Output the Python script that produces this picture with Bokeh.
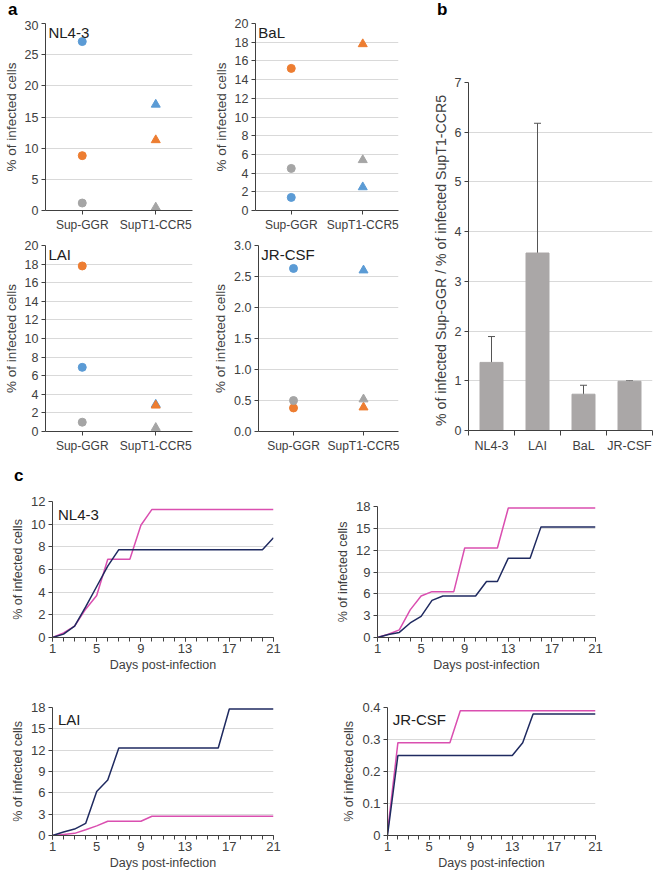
from bokeh.plotting import figure
from bokeh.layouts import row, column
from bokeh.models import (FactorRange, Range1d, FixedTicker, Label, NumeralTickFormatter,
                          ColumnDataSource, Whisker, TeeHead, Div)
from bokeh.embed import file_html
from bokeh.resources import INLINE

FONT = "Liberation Sans"
TXT = "#404040"
AXC = "#404040"
GRID = "#D9D9D9"
BLUE, ORANGE, GRAY = "#5B9BD5", "#ED7D31", "#A5A5A5"
PINK, NAVY = "#DA4FB0", "#1F2A60"

# ---------------- panel a data ----------------
cells = ["Sup-GGR", "SupT1-CCR5"]
nl43_blue = [27.1, 17.0]
nl43_orange = [8.8, 11.3]
nl43_gray = [1.2, 0.5]
bal_blue = [1.4, 2.5]
bal_orange = [15.2, 17.8]
bal_gray = [4.5, 5.4]
lai_blue = [6.9, 2.9]
lai_orange = [17.8, 2.8]
lai_gray = [1.0, 0.4]
jr_blue = [2.63, 2.6]
jr_orange = [0.38, 0.39]
jr_gray = [0.5, 0.52]

# ---------------- panel b data ----------------
viruses = ["NL4-3", "LAI", "BaL", "JR-CSF"]
ratio_mean = [1.37, 3.57, 0.73, 0.99]
ratio_low = [0.84, 0.97, 0.56, 0.97]
ratio_high = [1.89, 6.18, 0.91, 1.00]

# ---------------- panel c data ----------------
days = list(range(1, 22))
c_nl43_pink = [0, 0.4, 1.0, 2.5, 3.7, 6.9, 6.9, 6.9, 9.9, 11.3, 11.3, 11.3, 11.3, 11.3, 11.3, 11.3, 11.3, 11.3, 11.3, 11.3, 11.3]
c_nl43_navy = [0, 0.3, 1.0, 2.7, 4.5, 6.3, 7.75, 7.75, 7.75, 7.75, 7.75, 7.75, 7.75, 7.75, 7.75, 7.75, 7.75, 7.75, 7.75, 7.75, 8.8]
c_bal_pink = [0, 0.45, 1.05, 3.8, 5.7, 6.3, 6.3, 6.3, 12.3, 12.3, 12.3, 12.3, 17.8, 17.8, 17.8, 17.8, 17.8, 17.8, 17.8, 17.8, 17.8]
c_bal_navy = [0, 0.4, 0.7, 2.0, 2.9, 5.1, 5.7, 5.7, 5.7, 5.7, 7.7, 7.7, 10.9, 10.9, 10.9, 15.2, 15.2, 15.2, 15.2, 15.2, 15.2]
c_lai_pink = [0, 0.15, 0.3, 0.8, 1.35, 2.0, 2.0, 2.0, 2.0, 2.7, 2.7, 2.7, 2.7, 2.7, 2.7, 2.7, 2.7, 2.7, 2.7, 2.7, 2.7]
c_lai_navy = [0, 0.5, 0.9, 1.7, 6.2, 7.8, 12.3, 12.3, 12.3, 12.3, 12.3, 12.3, 12.3, 12.3, 12.3, 12.3, 17.8, 17.8, 17.8, 17.8, 17.8]
c_jr_pink = [0.01, 0.29, 0.29, 0.29, 0.29, 0.29, 0.29, 0.39, 0.39, 0.39, 0.39, 0.39, 0.39, 0.39, 0.39, 0.39, 0.39, 0.39, 0.39, 0.39, 0.39]
c_jr_navy = [0, 0.25, 0.25, 0.25, 0.25, 0.25, 0.25, 0.25, 0.25, 0.25, 0.25, 0.25, 0.25, 0.29, 0.38, 0.38, 0.38, 0.38, 0.38, 0.38, 0.38]


def style(p, ylabel=None, fs="12.5px", lfs="13.5px"):
    p.background_fill_color = "white"
    p.border_fill_color = "white"
    p.outline_line_color = None
    p.xgrid.grid_line_color = None
    p.ygrid.grid_line_color = GRID
    p.ygrid.grid_line_width = 1
    for ax in (p.xaxis[0], p.yaxis[0]):
        ax.axis_line_color = AXC
        ax.major_tick_line_color = AXC
        ax.minor_tick_line_color = None
        ax.major_tick_in = 0
        ax.major_tick_out = 4
        ax.major_label_text_font = FONT
        ax.major_label_text_font_size = fs
        ax.major_label_text_color = TXT
        ax.major_label_standoff = 3
        ax.axis_label_text_font = FONT
        ax.axis_label_text_font_style = "normal"
        ax.axis_label_text_font_size = lfs
        ax.axis_label_text_color = TXT
    p.yaxis[0].axis_label_standoff = 3
    if ylabel:
        p.yaxis[0].axis_label = ylabel


def letter_div(letter, w, h, pad_left, pad_top):
    html = ('<div style="font-family:\'Liberation Sans\',Arial,sans-serif;font-size:17px;'
            'font-weight:bold;color:black;line-height:19px;margin:0;'
            f'padding-left:{pad_left}px;padding-top:{pad_top}px;">{letter}</div>')
    return Div(text=html, width=w, height=h, margin=0)


def panel_a(name, blue, orange, gray, ymax, step, w, h, bl, br, bt, bb, fmt="0"):
    p = figure(width=w, height=h, x_range=FactorRange(factors=cells),
               y_range=Range1d(0, ymax), output_backend="svg", toolbar_location=None,
               min_border_left=bl, min_border_right=br, min_border_top=bt, min_border_bottom=bb)
    style(p, "% of infected cells")
    n = int(round(ymax / step))
    p.yaxis.ticker = FixedTicker(ticks=[i * step for i in range(n + 1)])
    p.yaxis.formatter = NumeralTickFormatter(format=fmt)
    p.xaxis.major_label_text_font_size = "12px"
    for vals, col in ((blue, BLUE), (orange, ORANGE), (gray, GRAY)):
        p.scatter(x=[cells[0]], y=[vals[0]], marker="circle", size=8, color=col)
        p.scatter(x=[cells[1]], y=[vals[1]], marker="triangle", size=9, color=col)
    p.add_layout(Label(x=0.04, y=ymax * 0.995, text=name, text_baseline="top",
                       text_font=FONT, text_font_size="15px", text_color="#202020"))
    return p


la = letter_div("a", 210, 20, 8, 0)
a1 = panel_a("NL4-3", nl43_blue, nl43_orange, nl43_gray, 30, 5, 210, 216, 42, 18, 3, 26)
a2 = panel_a("BaL", bal_blue, bal_orange, bal_gray, 20, 2, 218, 236, 40, 30, 23, 26)
a3 = panel_a("LAI", lai_blue, lai_orange, lai_gray, 20, 2, 210, 219, 42, 18, 9, 22)
a4 = panel_a("JR-CSF", jr_blue, jr_orange, jr_gray, 3.0, 0.5, 218, 219, 40, 30, 9, 22, fmt="0.0")

# ---------------- panel b ----------------
xpos = [i + 0.5 for i in range(len(viruses))]
srcb = ColumnDataSource(dict(x=xpos, top=ratio_mean, lo=ratio_low, hi=ratio_high))
lb = letter_div("b", 227, 20, 9, 0)
b = figure(width=227, height=435, x_range=Range1d(0, len(viruses)), y_range=Range1d(0, 7),
           output_backend="svg", toolbar_location=None,
           min_border_left=40, min_border_right=3, min_border_top=62, min_border_bottom=23)
style(b, "% of infected  Sup-GGR / % of  infected SupT1-CCR5", lfs="14.2px")
b.yaxis.ticker = FixedTicker(ticks=list(range(8)))
b.xaxis.ticker = FixedTicker(ticks=xpos, minor_ticks=list(range(len(viruses) + 1)))
b.xaxis.major_label_overrides = {x: v for x, v in zip(xpos, viruses)}
b.xaxis.major_tick_line_color = None
b.xaxis.minor_tick_line_color = AXC
b.xaxis.minor_tick_in = 0
b.xaxis.minor_tick_out = 5
b.vbar(x="x", top="top", width=0.5, source=srcb, color="#AAA7A7")
b.add_layout(Whisker(source=srcb, base="x", lower="lo", upper="hi", line_color="#555555",
                     line_width=1,
                     upper_head=TeeHead(size=7, line_color="#555555"),
                     lower_head=TeeHead(size=7, line_color="#555555")))


# ---------------- panel c ----------------
def panel_c(name, pink, navy, ymax, step, w, h, bl, br, bt, bb, fmt=None):
    p = figure(width=w, height=h, x_range=Range1d(1, 21), y_range=Range1d(0, ymax),
               output_backend="svg", toolbar_location=None,
               min_border_left=bl, min_border_right=br, min_border_top=bt, min_border_bottom=bb)
    style(p, "% of infected cells", fs="13px", lfs="12.5px")
    p.xaxis.axis_label = "Days post-infection"
    p.xaxis.axis_label_standoff = 2
    p.xaxis.major_label_standoff = 2
    n = int(round(ymax / step))
    ticks = [round(i * step, 3) for i in range(n + 1)]
    p.yaxis.ticker = FixedTicker(ticks=ticks)
    if fmt:
        p.yaxis.formatter = NumeralTickFormatter(format=fmt)
        p.yaxis.major_label_overrides = {0: "0"}
    p.xaxis.ticker = FixedTicker(ticks=days[::4], minor_ticks=days)
    p.xaxis.minor_tick_line_color = AXC
    p.xaxis.minor_tick_in = 0
    p.xaxis.minor_tick_out = 4
    p.line(days, pink, line_color=PINK, line_width=1.5)
    p.line(days, navy, line_color=NAVY, line_width=1.5)
    if name:
        p.add_layout(Label(x=1.5, y=ymax * 0.97, text=name, text_baseline="top",
                           text_font=FONT, text_font_size="15px", text_color="#202020"))
    return p


lc = letter_div("c", 328, 30, 14, 11)
c1 = panel_c("NL4-3", c_nl43_pink, c_nl43_navy, 12, 2, 328, 190, 52, 55, 16, 38)
c2 = panel_c(None, c_bal_pink, c_bal_navy, 18, 3, 327, 220, 49, 60, 51, 38)
c3 = panel_c("LAI", c_lai_pink, c_lai_navy, 18, 3, 328, 200, 52, 55, 32, 40)
c4 = panel_c("JR-CSF", c_jr_pink, c_jr_navy, 0.4, 0.1, 327, 200, 59, 60, 32, 40, fmt="0.0")

top = row(column(row(column(la, a1), a2), row(a3, a4)), column(lb, b))
layout = column(top, row(column(lc, c1), c2), row(c3, c4))

open("out.html", "w").write(file_html(layout, INLINE))
